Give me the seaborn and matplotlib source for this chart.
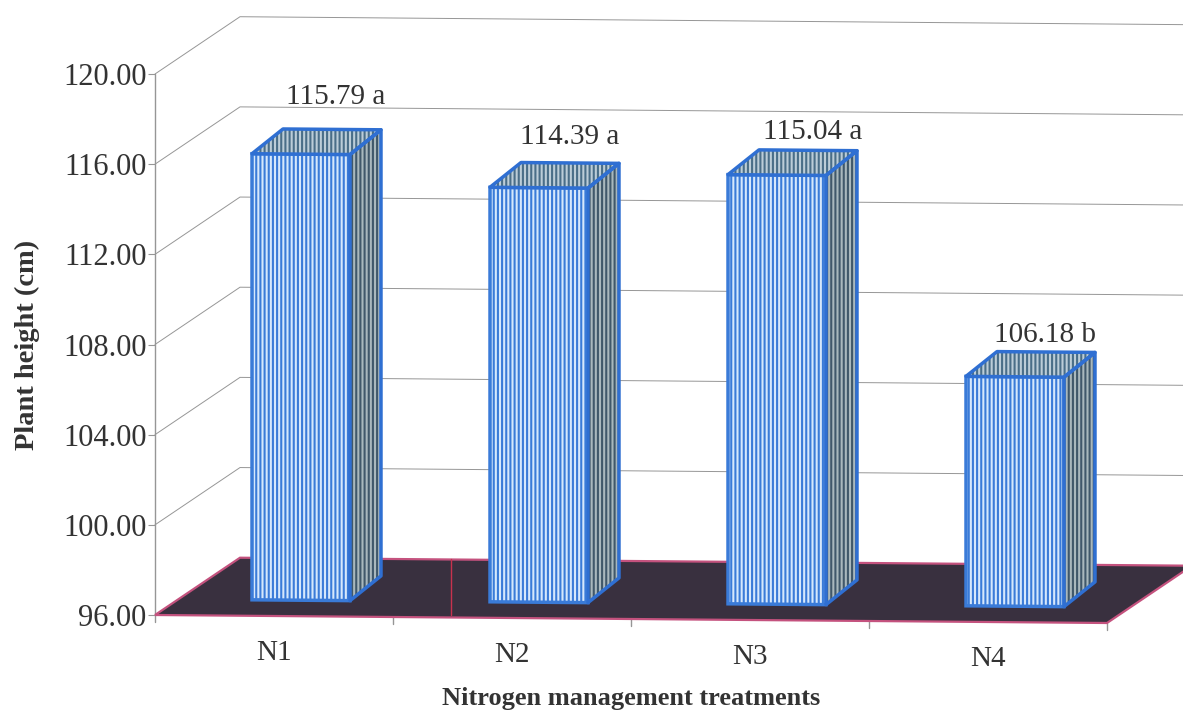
import numpy as np
import pandas as pd
import matplotlib
matplotlib.use("Agg")
import matplotlib.pyplot as plt
import seaborn as sns
from matplotlib.patches import Polygon
from matplotlib.transforms import Affine2D

treatments = ["N1", "N2", "N3", "N4"]
heights = [115.79, 114.39, 115.04, 106.18]
letters = ["a", "a", "a", "b"]
y_ticks = [96, 100, 104, 108, 112, 116, 120]

W, H = 1183, 711
sns.set_style("white")
plt.rcParams["font.family"] = ["Liberation Serif", "DejaVu Serif"]
plt.rcParams["hatch.linewidth"] = 1.5

BLUE = "#2f6fd2"
PINK = "#c4527e"
GRID = "#969696"
TEXT = "#333333"

fig = plt.figure(figsize=(W / 100, H / 100), dpi=100)
ax = fig.add_axes([155 / W, (H - 615) / H, 952 / W, 541 / H])

df = pd.DataFrame({"treatment": treatments, "height": heights})
sns.barplot(data=df, x="treatment", y="height", ax=ax, width=98 / 238,
            facecolor="#d6e8fc", edgecolor="#3a7bd8", hatch="||||", linewidth=2.5,
            zorder=5, clip_on=False)
ax.set_xlim(-0.5, 3.5)
ax.set_ylim(96, 120)

# the scan is a little crooked, everything sinks towards the right
tilt = Affine2D().translate(-155, 0).skew(0, -np.arctan(8 / 952)).translate(155, 0)


def to_px(x, y, dx=0, dy=0):
    px, py = ax.transData.transform((x, y))
    return (px + dx, py + dy)


def face(pts, fc, hatch_col, z=6):
    ax.add_patch(Polygon(pts, closed=True, facecolor=fc, edgecolor=hatch_col, hatch="||||",
                         linewidth=0, transform=tilt, clip_on=False, zorder=z))
    ax.add_patch(Polygon(pts, closed=True, fill=False, edgecolor=BLUE, linewidth=2.5,
                         transform=tilt, clip_on=False, zorder=z + 1, joinstyle="round"))


# wall depth, bar position inside the floor and bar depth, in pixels
wall_dx, wall_dy = 85, 58
bar_dx, bar_dy = 27, 16
side_dx, side_dy = 31, 25

# walls
for t in y_ticks[1:]:
    a = to_px(-0.5, t)
    b = to_px(-0.5, t, wall_dx, wall_dy)
    c = to_px(3.5, t, wall_dx, wall_dy)
    ax.plot([a[0], b[0], c[0]], [a[1], b[1], c[1]], color=GRID, lw=0.7,
            transform=tilt, clip_on=False, zorder=1)

# floor
floor = [to_px(-0.5, 96), to_px(-0.5, 96, wall_dx, wall_dy),
         to_px(3.5, 96, wall_dx, wall_dy), to_px(3.5, 96)]
ax.add_patch(Polygon(floor, closed=True, facecolor="#39303f", edgecolor=PINK, linewidth=1.6,
                     transform=tilt, clip_on=False, zorder=2))
seam_top = to_px(0.744, 96, 0, wall_dy)
seam_bot = to_px(0.744, 96, 0, 2)
ax.plot([seam_top[0], seam_bot[0]], [seam_top[1], seam_bot[1]], color="#c8324e", lw=1,
        transform=tilt, clip_on=False, zorder=3)

# axis lines and ticks
for i in range(5):
    top = to_px(i - 0.5, 96)
    bot = to_px(i - 0.5, 96, 0, -7)
    ax.plot([top[0], bot[0]], [top[1], bot[1]], color=GRID, lw=1, transform=tilt,
            clip_on=False, zorder=1)
ax.axvline(-0.5, color=GRID, lw=1, zorder=1, clip_on=False)

# bars: seaborn draws the front face, the 3D faces are built on it
label_shift = [(35, 57), (31, 51), (36, 43), (30, 42)]
for i, (bar, value) in enumerate(zip(ax.containers[0], heights)):
    bar.set_y(96)
    bar.set_height(value - 96)
    bar.set_transform(ax.transData + Affine2D().translate(bar_dx, bar_dy) + tilt)
    x0, x1 = bar.get_x(), bar.get_x() + bar.get_width()
    fl = to_px(x0, value, bar_dx, bar_dy)
    fr = to_px(x1, value, bar_dx, bar_dy)
    br = to_px(x1, 96, bar_dx, bar_dy)
    top = [fl, fr, (fr[0] + side_dx, fr[1] + side_dy), (fl[0] + side_dx, fl[1] + side_dy)]
    side = [fr, br, (br[0] + side_dx, br[1] + side_dy), (fr[0] + side_dx, fr[1] + side_dy)]
    face(side, "#a9b8bd", "#40586a")
    face(top, "#bccdd8", "#4a6e88")
    sx, sy = label_shift[i]
    ax.text((fl[0] + fr[0]) / 2 + sx, fl[1] + sy, f"{value:.2f} {letters[i]}", transform=tilt,
            ha="center", va="center", fontsize=21, color=TEXT, zorder=10, clip_on=False)

for s in ax.spines.values():
    s.set_visible(False)
ax.patch.set_visible(False)

ax.set_yticks(y_ticks)
ax.set_yticklabels([f"{t:.2f}" for t in y_ticks], fontsize=22, color=TEXT)
ax.tick_params(axis="y", length=5, width=0.8, color=GRID, pad=1, left=True)
ax.set_xticks(range(len(treatments)))
ax.set_xticklabels(treatments, fontsize=21, color=TEXT)
ax.tick_params(axis="x", length=0, pad=17.5)
for lab in ax.get_xticklabels():
    lab.set_transform(lab.get_transform() + tilt)

ax.set_xlabel("Nitrogen management treatments", fontsize=19, fontweight="bold", color=TEXT)
ax.xaxis.set_label_coords(0.5, -0.133)
ax.set_ylabel("Plant height (cm)", fontsize=20.5, fontweight="bold", color=TEXT)
ax.yaxis.set_label_coords(-0.121, 0.499)

fig.savefig("out.png", dpi=100, facecolor="white")
